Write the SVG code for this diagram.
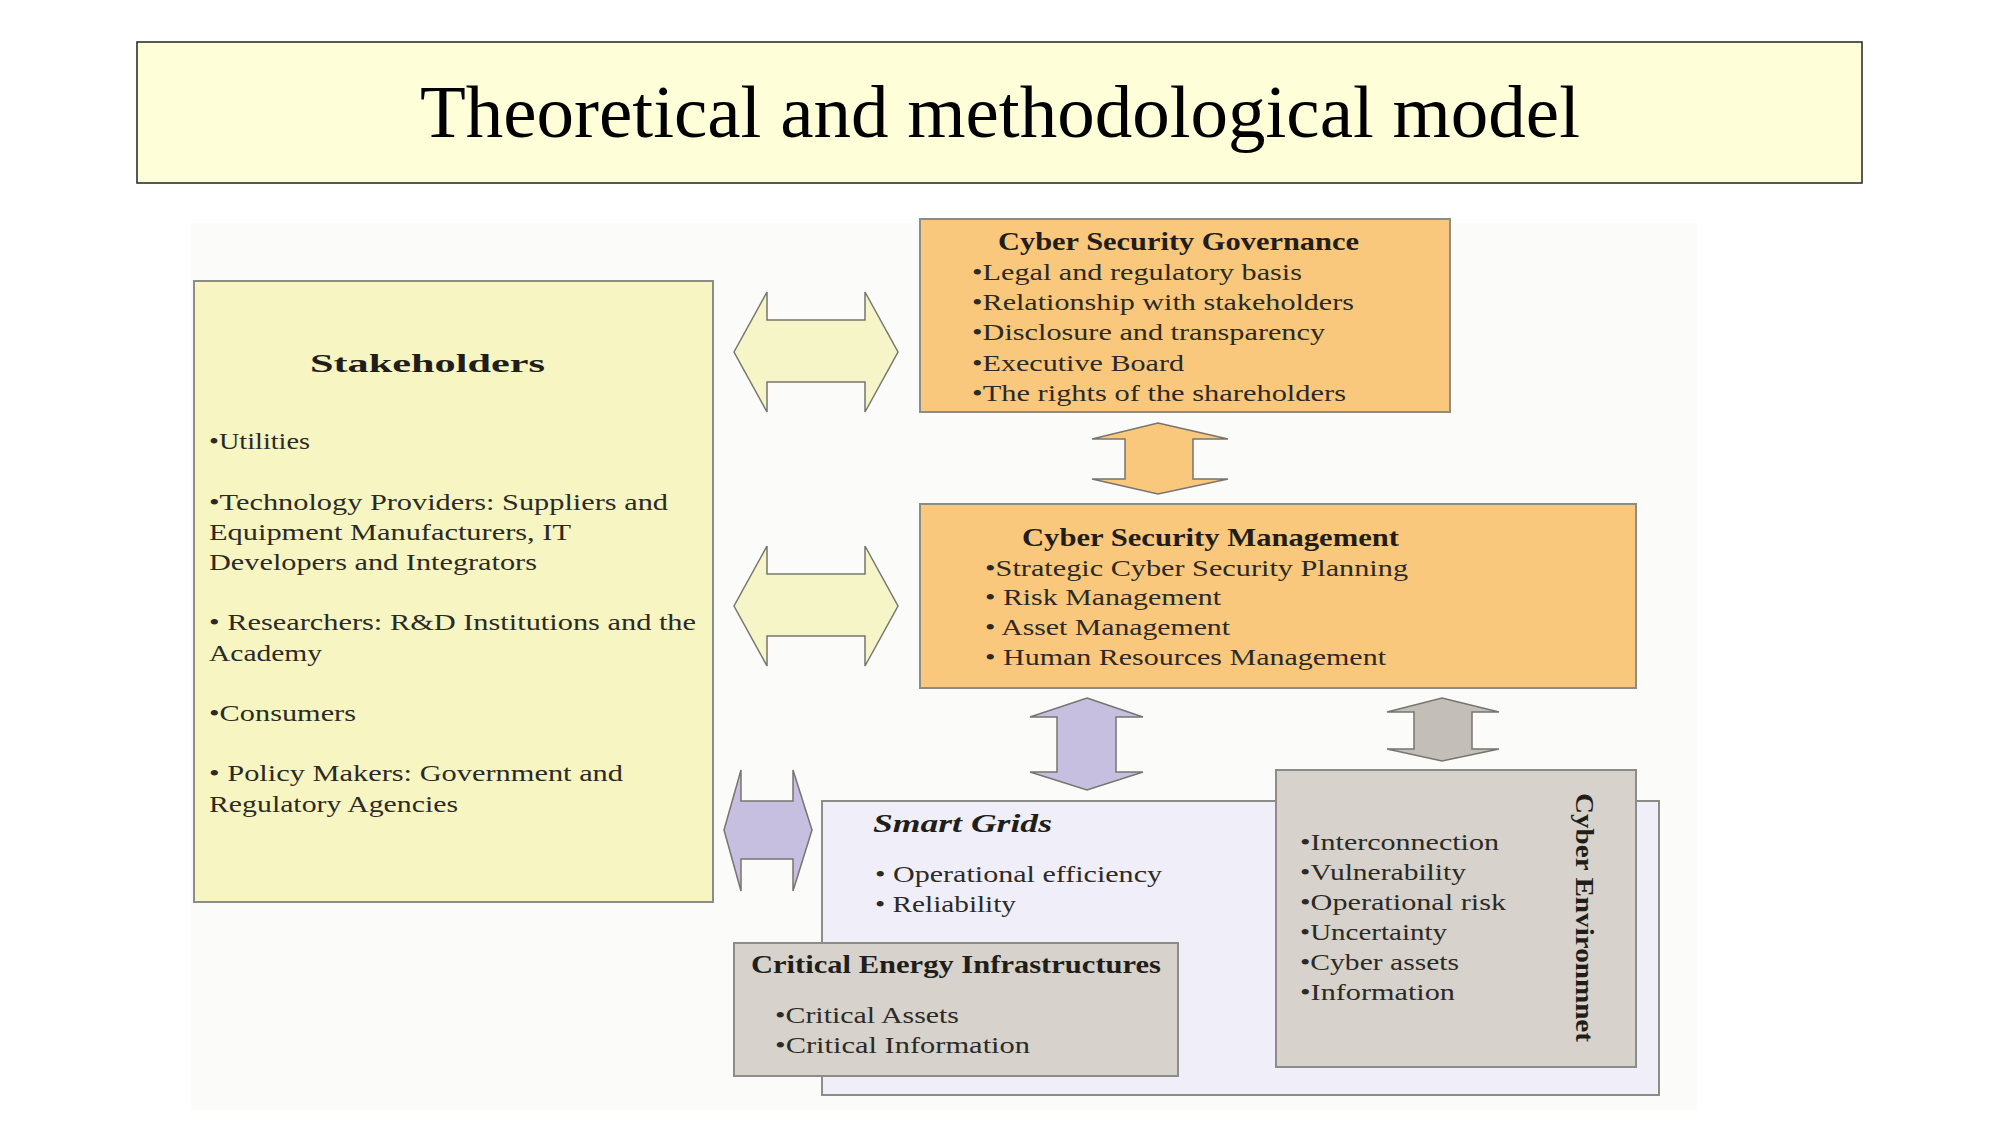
<svg xmlns="http://www.w3.org/2000/svg" width="2001" height="1125" viewBox="0 0 2001 1125">
<defs>
<style>
.t{font-family:"Liberation Serif","Times New Roman",serif;fill:#2b2a26;font-size:23px}
.h{font-family:"Liberation Serif","Times New Roman",serif;fill:#1f1e1a;font-weight:bold;font-size:25px}
.box{stroke:#8c8c88;stroke-width:2}
.arr{stroke:#77756f;stroke-width:1.5;stroke-linejoin:miter}
</style>
</defs>
<rect x="0" y="0" width="2001" height="1125" fill="#ffffff"/>
<rect x="191" y="223" width="1506" height="887" fill="#fbfbf9"/>
<g id="title">
<rect x="137" y="42" width="1725" height="141" fill="#fefed9" stroke="#222" stroke-width="1.5"/>
<text x="1000" y="137" text-anchor="middle" font-family="Liberation Serif, Times New Roman, serif" font-size="75" fill="#000">Theoretical and methodological model</text>
</g>
<g id="connectors">
<polygon class="arr" fill="#f6f5c8" points="734,352 767,292 767,320 865,320 865,292 898,352 865,412 865,382 767,382 767,412"/>
<polygon class="arr" fill="#f6f5c8" points="734,606 767,546 767,574 865,574 865,546 898,606 865,666 865,636 767,636 767,666"/>
<polygon class="arr" fill="#f9c87c" points="1158,423 1228,439 1193,439 1193,479 1228,479 1158,494 1092,479 1125,479 1125,439 1092,439"/>
<polygon class="arr" fill="#c6bfe0" points="1087,698 1143,717 1116,717 1116,772 1143,772 1087,790 1030,772 1057,772 1057,717 1030,717"/>
<polygon class="arr" fill="#c3beb8" points="1442,698 1499,712 1472,712 1472,749 1499,749 1442,761 1387,749 1414,749 1414,712 1387,712"/>
<polygon class="arr" fill="#c6bfe0" points="724,830 741,770 741,801 793,801 793,770 812,830 793,891 793,859 741,859 741,891"/>
<polygon class="arr" fill="#c6bfe0" points="1192,987 1205,953 1205,971 1250,971 1250,953 1267,987 1250,1023 1250,1003 1205,1003 1205,1023"/>
</g>
<g id="stakeholders">
<rect class="box" x="194" y="281" width="519" height="621" fill="#f7f5c2"/>
<text class="h" x="310" y="372" font-size="39" textLength="235" lengthAdjust="spacingAndGlyphs">Stakeholders</text>
<text class="t" x="209" y="449" textLength="101" lengthAdjust="spacingAndGlyphs">•Utilities</text>
<text class="t" x="209" y="510" textLength="459" lengthAdjust="spacingAndGlyphs">•Technology Providers: Suppliers and</text>
<text class="t" x="209" y="540" textLength="362" lengthAdjust="spacingAndGlyphs">Equipment Manufacturers, IT</text>
<text class="t" x="209" y="570" textLength="328" lengthAdjust="spacingAndGlyphs">Developers and Integrators</text>
<text class="t" x="209" y="630" textLength="487" lengthAdjust="spacingAndGlyphs">• Researchers: R&amp;D Institutions and the</text>
<text class="t" x="209" y="661" textLength="113" lengthAdjust="spacingAndGlyphs">Academy</text>
<text class="t" x="209" y="721" textLength="147" lengthAdjust="spacingAndGlyphs">•Consumers</text>
<text class="t" x="209" y="781" textLength="414" lengthAdjust="spacingAndGlyphs">• Policy Makers:  Government and</text>
<text class="t" x="209" y="812" textLength="249" lengthAdjust="spacingAndGlyphs">Regulatory Agencies</text>
</g>
<g id="governance">
<rect class="box" x="920" y="219" width="530" height="193" fill="#f9c87c"/>
<text class="h" x="998" y="250" textLength="361" lengthAdjust="spacingAndGlyphs">Cyber Security Governance</text>
<text class="t" x="972" y="280" textLength="330" lengthAdjust="spacingAndGlyphs">•Legal  and regulatory basis</text>
<text class="t" x="972" y="310" textLength="382" lengthAdjust="spacingAndGlyphs">•Relationship  with stakeholders</text>
<text class="t" x="972" y="340" textLength="353" lengthAdjust="spacingAndGlyphs">•Disclosure and transparency</text>
<text class="t" x="972" y="371" textLength="212" lengthAdjust="spacingAndGlyphs">•Executive  Board</text>
<text class="t" x="972" y="401" textLength="374" lengthAdjust="spacingAndGlyphs">•The rights of the shareholders</text>
</g>
<g id="management">
<rect class="box" x="920" y="504" width="716" height="184" fill="#f9c87c"/>
<text class="h" x="1022" y="546" textLength="377" lengthAdjust="spacingAndGlyphs">Cyber Security Management</text>
<text class="t" x="985" y="576" textLength="423" lengthAdjust="spacingAndGlyphs">•Strategic  Cyber Security Planning</text>
<text class="t" x="985" y="605" textLength="236" lengthAdjust="spacingAndGlyphs">• Risk Management</text>
<text class="t" x="985" y="635" textLength="245" lengthAdjust="spacingAndGlyphs">• Asset Management</text>
<text class="t" x="985" y="665" textLength="401" lengthAdjust="spacingAndGlyphs">• Human Resources Management</text>
</g>
<g id="smart-grids">
<rect class="box" x="822" y="801" width="837" height="294" fill="#f0eef8"/>
<text class="h" x="873" y="832" font-size="26" font-style="italic" textLength="179" lengthAdjust="spacingAndGlyphs">Smart Grids</text>
<text class="t" x="875" y="882" textLength="287" lengthAdjust="spacingAndGlyphs">• Operational efficiency</text>
<text class="t" x="875" y="912" textLength="141" lengthAdjust="spacingAndGlyphs">• Reliability</text>
</g>
<g id="critical-energy">
<rect class="box" x="734" y="943" width="444" height="133" fill="#d7d2cb"/>
<text class="h" x="751" y="973" font-size="24" textLength="410" lengthAdjust="spacingAndGlyphs">Critical Energy Infrastructures</text>
<text class="t" x="775" y="1023" textLength="184" lengthAdjust="spacingAndGlyphs">•Critical Assets</text>
<text class="t" x="775" y="1053" textLength="255" lengthAdjust="spacingAndGlyphs">•Critical  Information</text>
</g>
<g id="cyber-environment">
<rect class="box" x="1276" y="770" width="360" height="297" fill="#d7d2cb"/>
<text class="t" x="1300" y="850" textLength="199" lengthAdjust="spacingAndGlyphs">•Interconnection</text>
<text class="t" x="1300" y="880" textLength="166" lengthAdjust="spacingAndGlyphs">•Vulnerability</text>
<text class="t" x="1300" y="910" textLength="206" lengthAdjust="spacingAndGlyphs">•Operational risk</text>
<text class="t" x="1300" y="940" textLength="147" lengthAdjust="spacingAndGlyphs">•Uncertainty</text>
<text class="t" x="1300" y="970" textLength="159" lengthAdjust="spacingAndGlyphs">•Cyber assets</text>
<text class="t" x="1300" y="1000" textLength="155" lengthAdjust="spacingAndGlyphs">•Information</text>
<text class="h" font-size="28" transform="translate(1576,793) rotate(90)" x="0" y="0" textLength="249" lengthAdjust="spacingAndGlyphs">Cyber Environmnet</text>
</g>
</svg>
